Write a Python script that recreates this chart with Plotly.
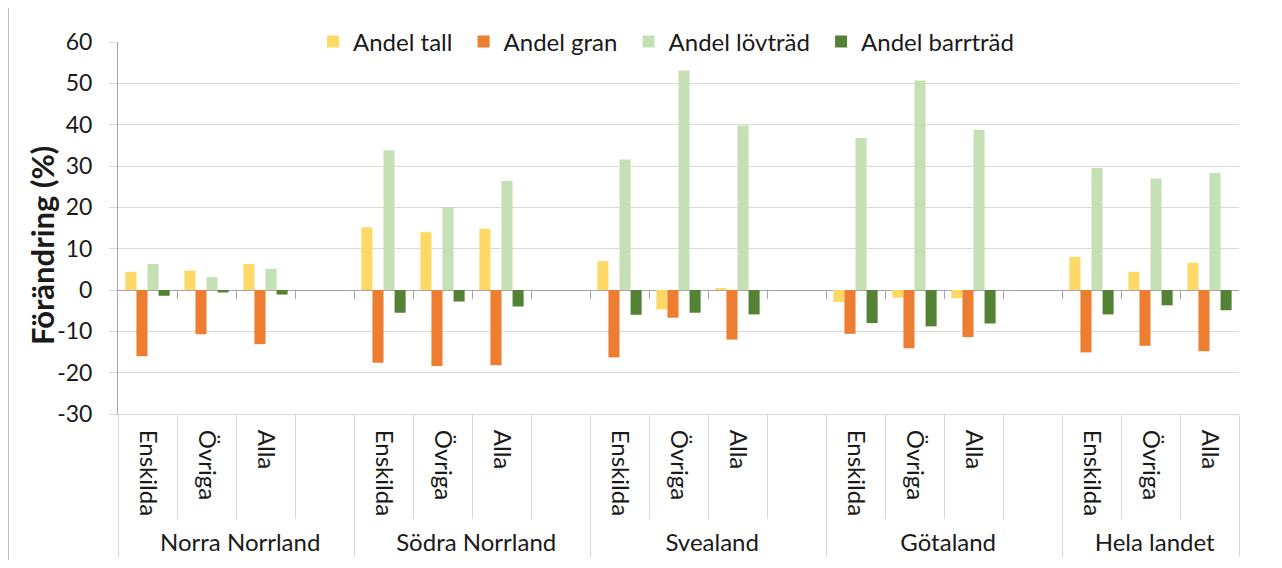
import plotly.graph_objects as go

groups = ["Norra Norrland", "Södra Norrland", "Svealand", "Götaland", "Hela landet"]
owners = ["Enskilda", "Övriga", "Alla"]

# values per group: [Enskilda, Övriga, Alla]
andel_tall = {
    "Norra Norrland": [4.4, 4.7, 6.3],
    "Södra Norrland": [15.2, 14.0, 14.8],
    "Svealand": [7.0, -4.7, 0.5],
    "Götaland": [-2.9, -1.9, -2.0],
    "Hela landet": [8.0, 4.4, 6.6],
}
andel_gran = {
    "Norra Norrland": [-16.0, -10.7, -13.1],
    "Södra Norrland": [-17.6, -18.4, -18.2],
    "Svealand": [-16.3, -6.7, -12.0],
    "Götaland": [-10.6, -14.1, -11.4],
    "Hela landet": [-15.1, -13.5, -14.8],
}
andel_lov = {
    "Norra Norrland": [6.3, 3.1, 5.1],
    "Södra Norrland": [33.8, 20.0, 26.4],
    "Svealand": [31.6, 53.1, 39.8],
    "Götaland": [36.8, 50.7, 38.8],
    "Hela landet": [29.5, 27.0, 28.3],
}
andel_barr = {
    "Norra Norrland": [-1.4, -0.6, -1.1],
    "Södra Norrland": [-5.5, -2.8, -4.0],
    "Svealand": [-6.0, -5.5, -5.9],
    "Götaland": [-8.0, -8.8, -8.1],
    "Hela landet": [-5.9, -3.7, -4.9],
}

y_ticks = [-30, -20, -10, 0, 10, 20, 30, 40, 50, 60]
y_ticktext = [str(v) for v in y_ticks]  # plain hyphen minus, as in the original
y_title = "Förändring (%)"

series = [
    ("Andel tall", andel_tall, "#FFD966"),
    ("Andel gran", andel_gran, "#ED7D31"),
    ("Andel lövträd", andel_lov, "#C5E0B4"),
    ("Andel barrträd", andel_barr, "#548235"),
]

NB = "\u00a0"  # invisible padding (legend spacing only)

# build multicategory x (blank spacer slot after each group except the last)
outer, inner = [], []
for i, g in enumerate(groups):
    for o in owners:
        outer.append(g)
        inner.append(o)
    if i < len(groups) - 1:
        outer.append(g)
        inner.append(" ")

def values_for(d):
    vals = []
    for i, g in enumerate(groups):
        vals.extend(d[g])
        if i < len(groups) - 1:
            vals.append(None)
    return vals

FONT = "Lato, 'Open Sans', sans-serif"
FS = 24
# page is rendered with an 8px body margin -> figure is 16px smaller, offsets shifted
W, H = 1266, 552
L, T = 110, 34
PR, PB = 1231, 406  # plot right / bottom inside the figure
PW, PH = PR - L, PB - T

fig = go.Figure()
for name, d, col in series:
    fig.add_trace(go.Bar(
        x=[outer, inner], y=values_for(d), name=name + NB,
        marker=dict(color=col, line=dict(width=0)),
    ))

# helper invisible trace for small ticks on the zero line
n = len(inner)
fig.add_trace(go.Scatter(x=[0, n - 1], y=[0, 0], xaxis="x2", mode="markers",
                         marker=dict(opacity=0), showlegend=False, hoverinfo="skip"))

fig.update_layout(
    width=W, height=H,
    margin=dict(l=L, r=W - PR, t=T, b=H - PB, autoexpand=False),
    paper_bgcolor="white", plot_bgcolor="white",
    font=dict(family=FONT, size=FS, color="#1a1a1a"),
    barmode="group", bargap=0.25, bargroupgap=0,
    showlegend=True,
    legend=dict(orientation="h", x=0.492, xanchor="center", y=1.0, yanchor="middle",
                bgcolor="white", font=dict(size=FS, family=FONT), itemwidth=30,
                traceorder="normal"),
    xaxis=dict(
        type="multicategory", tickangle=90, showgrid=False, automargin=False,
        showline=True, linecolor="#D9D9D9", linewidth=1, mirror=False,
        ticks="outside", ticklen=104, tickcolor="#D9D9D9", tickson="boundaries",
        ticklabelstandoff=10,
        showdividers=True, dividercolor="#D9D9D9", dividerwidth=1,
        tickfont=dict(size=FS, family=FONT, color="#1a1a1a"),
        zeroline=False,
    ),
    xaxis2=dict(
        overlaying="x", anchor="free", position=1/3, type="linear",
        range=[-0.5, n - 0.5], tickvals=[k + 0.5 for k in range(n - 1)],
        ticks="outside", ticklen=8, tickcolor="#A6A6A6", showticklabels=False,
        showgrid=False, showline=False, zeroline=False, automargin=False,
    ),
    yaxis=dict(
        range=[-30, 60], tickmode="array", tickvals=y_ticks, ticktext=y_ticktext,
        automargin=False,
        showgrid=True, gridcolor="#D9D9D9", gridwidth=1,
        zeroline=True, zerolinecolor="#A6A6A6", zerolinewidth=1,
        showline=True, linecolor="#A6A6A6", linewidth=1,
        ticks="outside", ticklen=8, tickcolor="#D9D9D9",
        ticklabelstandoff=12,
        tickfont=dict(size=23, family=FONT, color="#1a1a1a"),
    ),
    annotations=[
        dict(text="<b>" + y_title + "</b>", textangle=-90, showarrow=False,
             xref="paper", yref="paper", x=(34 - L) / PW, y=1 - (238 - T) / PH,
             xanchor="center", yanchor="middle",
             font=dict(size=31, family=FONT, color="#1a1a1a")),
    ],
    shapes=[
        dict(type="line", xref="paper", yref="paper", x0=-0.0977, x1=-0.0977,
             y0=-0.5, y1=1.2, line=dict(color="#BFBFBF", width=1)),
    ],
)

fig.write_html("out.html")
